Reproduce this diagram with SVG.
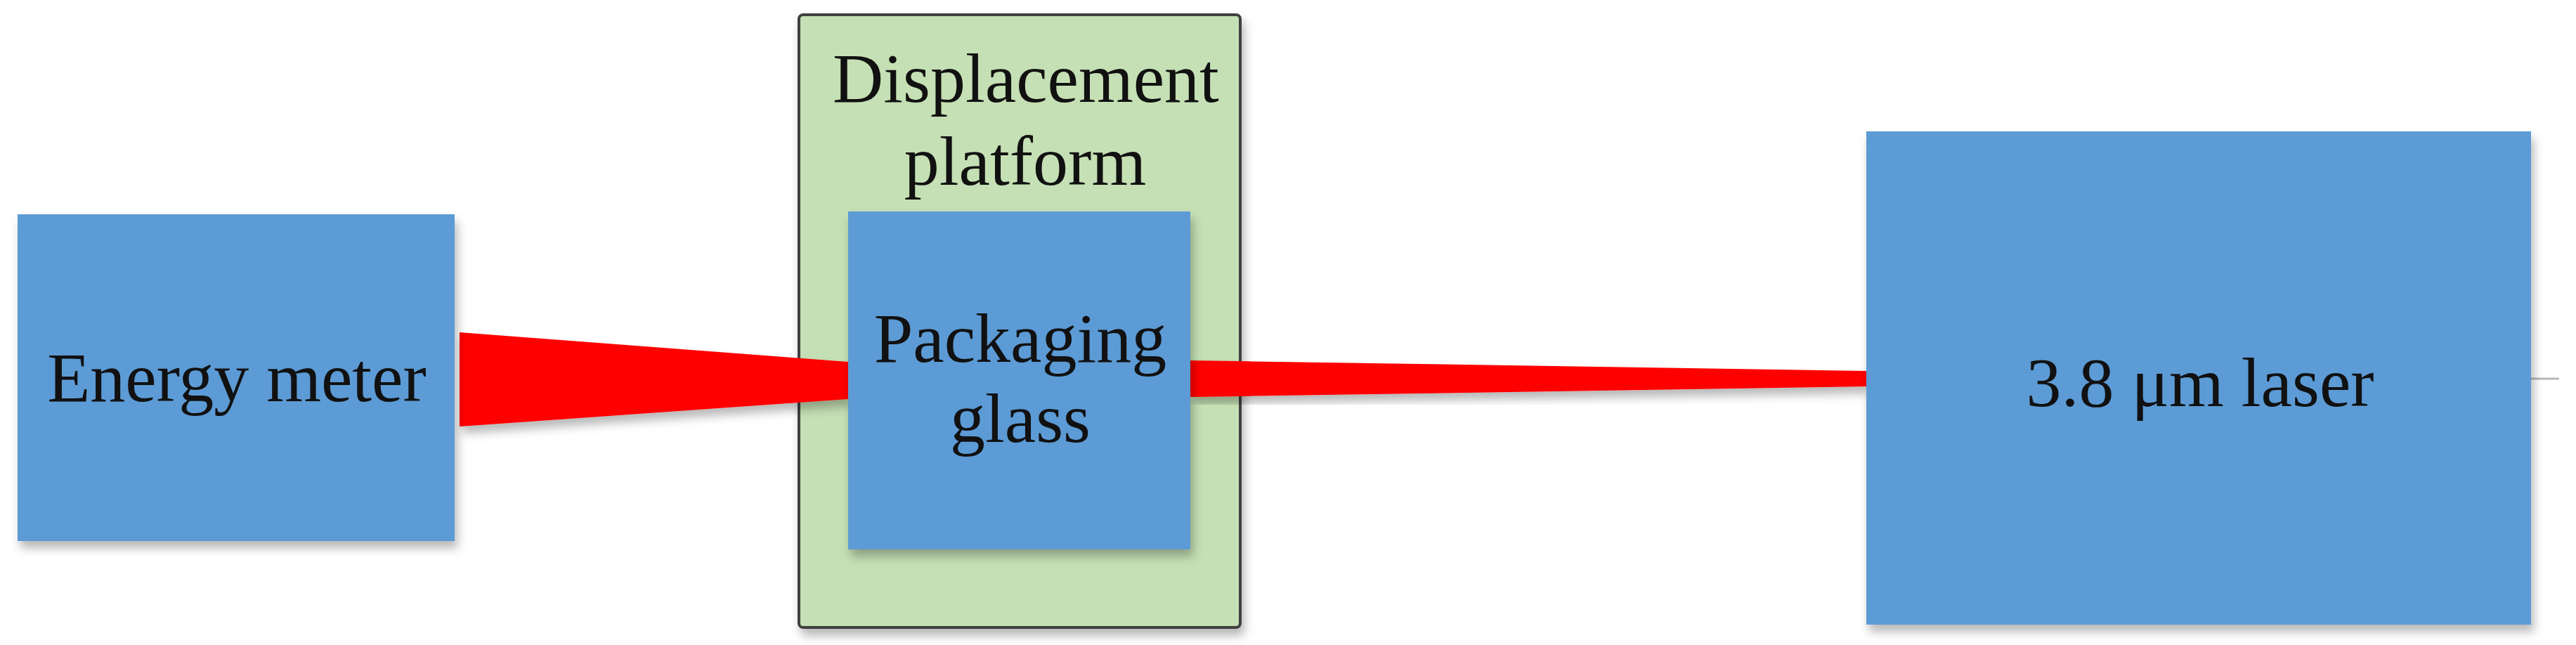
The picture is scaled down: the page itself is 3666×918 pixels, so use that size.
<svg xmlns="http://www.w3.org/2000/svg" width="3666" height="918" viewBox="0 0 3666 918">
  <defs>
    <filter id="shadow" x="-10%" y="-10%" width="130%" height="130%">
      <feDropShadow dx="4" dy="10" stdDeviation="7" flood-color="#000" flood-opacity="0.28"/>
    </filter>
  </defs>
  <style>
    .box { fill: #5B9BD5; }
    .platform { fill: #C5E0B4; stroke: #404040; stroke-width: 4; }
    .beam { fill: #FF0000; }
    .label { font-family: "Liberation Serif", "Times New Roman", serif; font-size: 100px; fill: #111; text-anchor: middle; }
  </style>
  <rect width="3666" height="918" fill="#ffffff"/>

  <g id="node-platform">
    <rect class="platform" x="1137" y="21" width="628" height="872" rx="6" filter="url(#shadow)"/>
    <text class="label" x="1460" y="145">Displacement</text>
    <text class="label" x="1459" y="263">platform</text>
  </g>

  <g id="connectors">
    <polygon class="beam" points="654,473 1207,515 1207,568 654,607" filter="url(#shadow)"/>
    <polygon class="beam" points="1694,513 2656,528 2656,550 1694,565" filter="url(#shadow)"/>
    <line x1="3602" y1="539" x2="3642" y2="539" stroke="#b8b8b8" stroke-width="3"/>
  </g>

  <g id="node-energy-meter">
    <rect class="box" x="25" y="305" width="622" height="465" filter="url(#shadow)"/>
    <text class="label" x="337" y="571">Energy meter</text>
  </g>

  <g id="node-packaging-glass">
    <rect class="box" x="1207" y="301" width="487" height="481" filter="url(#shadow)"/>
    <text class="label" x="1452" y="515">Packaging</text>
    <text class="label" x="1452" y="629">glass</text>
  </g>

  <g id="node-laser">
    <rect class="box" x="2656" y="187" width="946" height="702" filter="url(#shadow)"/>
    <text class="label" x="3131" y="578">3.8 μm laser</text>
  </g>
</svg>
